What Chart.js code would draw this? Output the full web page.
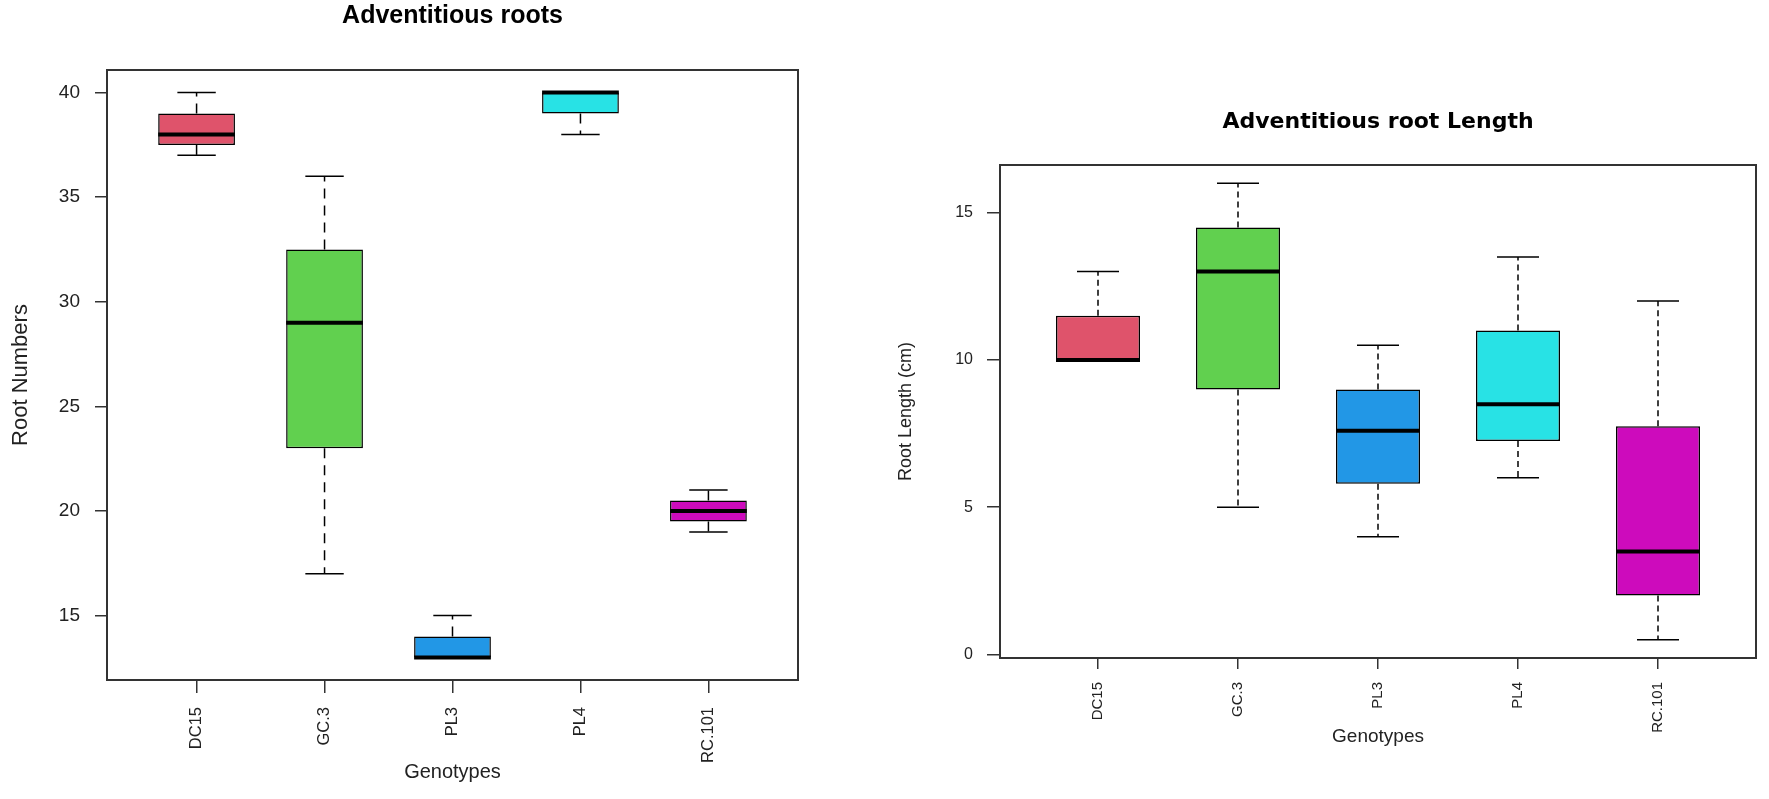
<!DOCTYPE html>
<html><head><meta charset="utf-8">
<script src="https://cdn.jsdelivr.net/npm/chart.js@4.4.1/dist/chart.umd.min.js"></script>
<style>
html,body{margin:0;padding:0;background:#fff;width:1769px;height:799px;overflow:hidden;}
canvas{position:absolute;top:0;}
#c1{left:0;} #c2{left:860px;}
</style></head><body>
<canvas id="c1" width="860" height="799"></canvas>
<canvas id="c2" width="909" height="799"></canvas>
<script>
// ---- data ----
const genotypes = ['DC15', 'GC.3', 'PL3', 'PL4', 'RC.101'];
const boxColors = ['#DF536B', '#61D04F', '#2297E6', '#28E2E5', '#CD0BBC'];

// Adventitious roots (Root Numbers)
const rnMin = [37, 17, 13, 38, 19];
const rnQ1  = [37.5, 23, 13, 39, 19.5];
const rnMed = [38, 29, 13, 40, 20];
const rnQ3  = [39, 32.5, 14, 40, 20.5];
const rnMax = [40, 36, 15, 40, 21];
const rnTicks = [15, 20, 25, 30, 35, 40];

// Adventitious root Length (cm)
const rlMin = [10, 5, 4, 6, 0.5];
const rlQ1  = [10, 9, 5.8, 7.25, 2];
const rlMed = [10, 13, 7.6, 8.5, 3.5];
const rlQ3  = [11.5, 14.5, 9, 11, 7.75];
const rlMax = [13, 16, 10.5, 13.5, 12];
const rlTicks = [0, 5, 10, 15];

const catTicks = [1, 2, 3, 4, 5];

function makeBoxPlugin(mins, meds, maxs, dash) {
  return {
    id: 'boxWhiskers',
    afterDatasetsDraw(chart) {
      const {ctx} = chart;
      const x = chart.scales.x, y = chart.scales.y;
      const unit = x.getPixelForValue(2) - x.getPixelForValue(1);
      const half = unit * 0.3, cap = unit * 0.15;
      const ds = chart.data.datasets[0].data;
      ctx.save();
      ctx.strokeStyle = '#000';
      const line = (x1, y1, x2, y2) => { ctx.beginPath(); ctx.moveTo(x1, y1); ctx.lineTo(x2, y2); ctx.stroke(); };
      for (let i = 0; i < ds.length; i++) {
        const cx = x.getPixelForValue(ds[i].x);
        const q1 = ds[i].y[0], q3 = ds[i].y[1];
        ctx.lineWidth = 1.5;
        ctx.setLineDash(dash);
        line(cx, y.getPixelForValue(q3), cx, y.getPixelForValue(maxs[i]));
        line(cx, y.getPixelForValue(q1), cx, y.getPixelForValue(mins[i]));
        ctx.setLineDash([]);
        line(cx - cap, y.getPixelForValue(maxs[i]), cx + cap, y.getPixelForValue(maxs[i]));
        line(cx - cap, y.getPixelForValue(mins[i]), cx + cap, y.getPixelForValue(mins[i]));
        ctx.lineWidth = 4;
        ctx.lineCap = 'butt';
        line(cx - half, y.getPixelForValue(meds[i]), cx + half, y.getPixelForValue(meds[i]));
      }
      const a = chart.chartArea;
      ctx.lineWidth = 2;
      ctx.strokeStyle = '#333';
      ctx.strokeRect(a.left, a.top, a.right - a.left, a.bottom - a.top);
      ctx.restore();
    }
  };
}

function makeChart(canvasId, cfg) {
  const data = genotypes.map((g, i) => ({x: i + 1, y: [cfg.q1[i], cfg.q3[i]]}));
  return new Chart(document.getElementById(canvasId), {
    type: 'bar',
    data: {
      datasets: [{
        data: data,
        backgroundColor: boxColors,
        borderColor: '#000',
        borderWidth: 1.5,
        borderSkipped: false,
        barPercentage: 0.6,
        categoryPercentage: 1.0
      }]
    },
    options: {
      responsive: false,
      animation: false,
      layout: {padding: {left: 0, right: cfg.padRight, top: 0, bottom: 0}},
      plugins: {
        legend: {display: false},
        tooltip: {enabled: false},
        title: {
          display: true,
          text: cfg.title,
          fullSize: false,
          color: '#000',
          font: {family: cfg.titleFamily, size: cfg.titleSize, weight: 'bold', lineHeight: 1.2},
          padding: {top: cfg.titlePadTop, bottom: cfg.titlePadBottom}
        }
      },
      scales: {
        x: {
          type: 'linear',
          min: 0.3, max: 5.7,
          offset: false,
          afterBuildTicks: (s) => { s.ticks = catTicks.map(v => ({value: v})); },
          afterFit: (s) => { s.height = cfg.xAxisHeight; },
          border: {display: false},
          grid: {display: true, offset: false, drawOnChartArea: false, drawTicks: true, tickLength: cfg.xTickLen, color: '#333', lineWidth: 1.5},
          ticks: {
            autoSkip: false, minRotation: 90, maxRotation: 90,
            padding: cfg.xTickPad, color: '#222',
            font: {family: 'Liberation Sans', size: cfg.xTickSize},
            callback: (v) => genotypes[Math.round(v) - 1] || ''
          },
          title: {
            display: true, text: 'Genotypes', color: '#222',
            font: {family: 'Liberation Sans', size: cfg.xTitleSize, lineHeight: 1.2},
            padding: {top: 0, bottom: cfg.xTitlePadBottom}
          }
        },
        y: {
          type: 'linear',
          min: cfg.yMin, max: cfg.yMax,
          afterBuildTicks: (s) => { s.ticks = cfg.yTicks.map(v => ({value: v})); },
          afterFit: (s) => { s.width = cfg.yAxisWidth; },
          border: {display: false},
          grid: {display: true, offset: false, drawOnChartArea: false, drawTicks: true, tickLength: cfg.yTickLen, color: '#333', lineWidth: 1.5},
          ticks: {
            padding: cfg.yTickPad, color: '#222',
            font: {family: 'Liberation Sans', size: cfg.yTickSize}
          },
          title: {
            display: true, text: cfg.yTitle, color: '#222',
            font: {family: 'Liberation Sans', size: cfg.yTitleSize, lineHeight: 1.2},
            padding: {top: cfg.yTitlePadTop, bottom: 0}
          }
        }
      }
    },
    plugins: [makeBoxPlugin(cfg.min, cfg.med, cfg.max, cfg.dash)]
  });
}

makeChart('c1', {
  title: 'Adventitious roots', titleFamily: 'Liberation Sans', titleSize: 25,
  titlePadTop: 1.5, titlePadBottom: 38.5,
  q1: rnQ1, q3: rnQ3, min: rnMin, med: rnMed, max: rnMax,
  yMin: 11.92, yMax: 41.08, yTicks: rnTicks,
  padRight: 62, xAxisHeight: 119, yAxisWidth: 107,
  xTickLen: 13, xTickPad: 14, xTickSize: 16.5,
  yTickLen: 12, yTickPad: 15, yTickSize: 19,
  xTitleSize: 20, xTitlePadBottom: 15,
  yTitle: 'Root Numbers', yTitleSize: 22, yTitlePadTop: 7.6,
  dash: [10, 7]
});

makeChart('c2', {
  title: 'Adventitious root Length', titleFamily: 'DejaVu Sans', titleSize: 22,
  titlePadTop: 108.8, titlePadBottom: 29.8,
  q1: rlQ1, q3: rlQ3, min: rlMin, med: rlMed, max: rlMax,
  yMin: -0.12, yMax: 16.62, yTicks: rlTicks,
  padRight: 13, xAxisHeight: 141, yAxisWidth: 140,
  xTickLen: 11, xTickPad: 13, xTickSize: 15,
  yTickLen: 13, yTickPad: 14, yTickSize: 16,
  xTitleSize: 19, xTitlePadBottom: 50.6,
  yTitle: 'Root Length (cm)', yTitleSize: 18, yTitlePadTop: 35.2,
  dash: [6, 4]
});
</script>
</body></html>
